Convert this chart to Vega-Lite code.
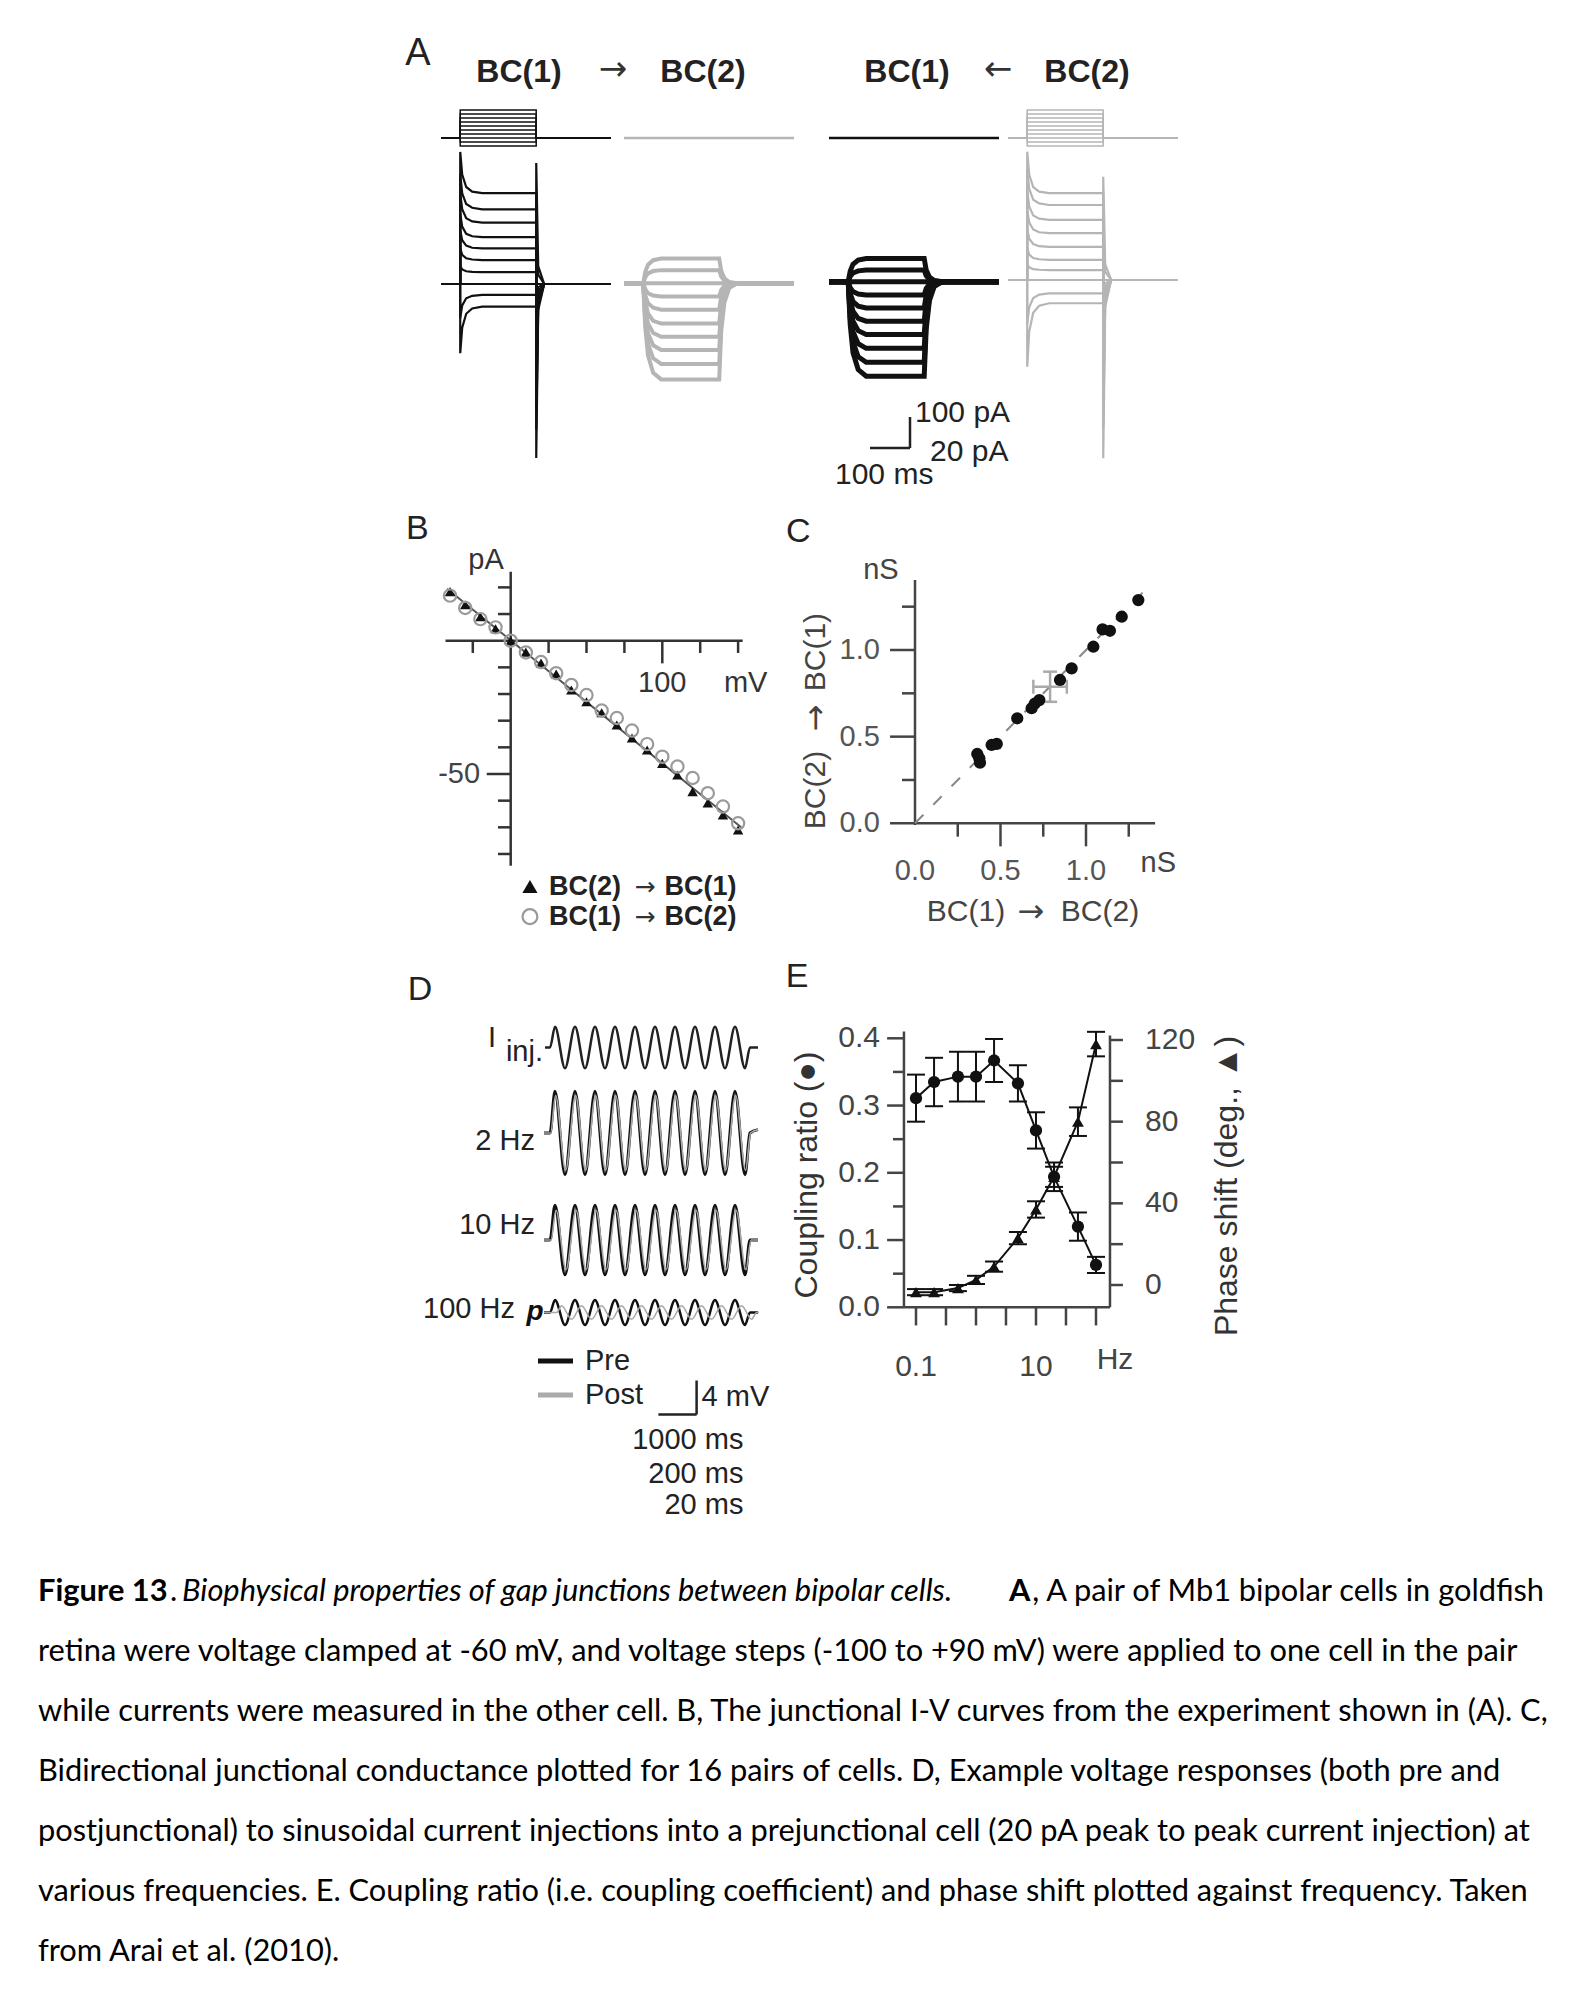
{
"$schema":"https://vega.github.io/schema/vega-lite/v6.json",
"width":1578,"height":2009,"autosize":{"type":"none"},"padding":0,"background":"#ffffff",
"config":{"view":{"stroke":null},"axis":{"disable":true},"legend":{"disable":true},
 "text":{"font":"Liberation Sans","fontSize":29,"color":"#222222","align":"center","baseline":"middle"}},
"datasets":{
"s1":[
{"k":1,"t":-48,"v":-60},{"k":1,"t":0,"v":-60},{"k":1,"t":0.1,"v":80},{"k":1,"t":190,"v":80},{"k":1,"t":190.1,"v":-60},{"k":1,"t":377,"v":-60},
{"k":2,"t":-48,"v":-60},{"k":2,"t":0,"v":-60},{"k":2,"t":0.1,"v":60},{"k":2,"t":190,"v":60},{"k":2,"t":190.1,"v":-60},{"k":2,"t":377,"v":-60},
{"k":3,"t":-48,"v":-60},{"k":3,"t":0,"v":-60},{"k":3,"t":0.1,"v":40},{"k":3,"t":190,"v":40},{"k":3,"t":190.1,"v":-60},{"k":3,"t":377,"v":-60},
{"k":4,"t":-48,"v":-60},{"k":4,"t":0,"v":-60},{"k":4,"t":0.1,"v":20},{"k":4,"t":190,"v":20},{"k":4,"t":190.1,"v":-60},{"k":4,"t":377,"v":-60},
{"k":5,"t":-48,"v":-60},{"k":5,"t":0,"v":-60},{"k":5,"t":0.1,"v":0},{"k":5,"t":190,"v":0},{"k":5,"t":190.1,"v":-60},{"k":5,"t":377,"v":-60},
{"k":6,"t":-48,"v":-60},{"k":6,"t":0,"v":-60},{"k":6,"t":0.1,"v":-20},{"k":6,"t":190,"v":-20},{"k":6,"t":190.1,"v":-60},{"k":6,"t":377,"v":-60},
{"k":7,"t":-48,"v":-60},{"k":7,"t":0,"v":-60},{"k":7,"t":0.1,"v":-40},{"k":7,"t":190,"v":-40},{"k":7,"t":190.1,"v":-60},{"k":7,"t":377,"v":-60},
{"k":8,"t":-48,"v":-60},{"k":8,"t":377,"v":-60},
{"k":9,"t":-48,"v":-60},{"k":9,"t":0,"v":-60},{"k":9,"t":0.1,"v":-80},{"k":9,"t":190,"v":-80},{"k":9,"t":190.1,"v":-60},{"k":9,"t":377,"v":-60},
{"k":10,"t":-48,"v":-60},{"k":10,"t":0,"v":-60},{"k":10,"t":0.1,"v":-100},{"k":10,"t":190,"v":-100},{"k":10,"t":190.1,"v":-60},{"k":10,"t":377,"v":-60}],
"s0":[{"t":-48,"v":-60},{"t":377,"v":-60}],
"a1":[
{"k":1,"t":-48,"i":0},{"k":1,"t":0,"i":0},{"k":1,"t":0.1,"i":426},{"k":1,"t":5,"i":353},{"k":1,"t":15,"i":313},{"k":1,"t":30,"i":298},{"k":1,"t":55,"i":293},{"k":1,"t":190,"i":293},{"k":1,"t":190.1,"i":-561},{"k":1,"t":195,"i":-84},{"k":1,"t":210,"i":0},{"k":1,"t":377,"i":0},
{"k":2,"t":-48,"i":0},{"k":2,"t":0,"i":0},{"k":2,"t":0.1,"i":355},{"k":2,"t":5,"i":292},{"k":2,"t":15,"i":258},{"k":2,"t":30,"i":246},{"k":2,"t":55,"i":241},{"k":2,"t":190,"i":241},{"k":2,"t":190.1,"i":-470},{"k":2,"t":195,"i":-70},{"k":2,"t":210,"i":0},{"k":2,"t":377,"i":0},
{"k":3,"t":-48,"i":0},{"k":3,"t":0,"i":0},{"k":3,"t":0.1,"i":293},{"k":3,"t":5,"i":241},{"k":3,"t":15,"i":212},{"k":3,"t":30,"i":202},{"k":3,"t":55,"i":198},{"k":3,"t":190,"i":198},{"k":3,"t":190.1,"i":-390},{"k":3,"t":195,"i":-58},{"k":3,"t":210,"i":0},{"k":3,"t":377,"i":0},
{"k":4,"t":-48,"i":0},{"k":4,"t":0,"i":0},{"k":4,"t":0.1,"i":227},{"k":4,"t":5,"i":185},{"k":4,"t":15,"i":162},{"k":4,"t":30,"i":154},{"k":4,"t":55,"i":151},{"k":4,"t":190,"i":151},{"k":4,"t":190.1,"i":-310},{"k":4,"t":195,"i":-46},{"k":4,"t":210,"i":0},{"k":4,"t":377,"i":0},
{"k":5,"t":-48,"i":0},{"k":5,"t":0,"i":0},{"k":5,"t":0.1,"i":172},{"k":5,"t":5,"i":141},{"k":5,"t":15,"i":124},{"k":5,"t":30,"i":117},{"k":5,"t":55,"i":115},{"k":5,"t":190,"i":115},{"k":5,"t":190.1,"i":-230},{"k":5,"t":195,"i":-35},{"k":5,"t":210,"i":0},{"k":5,"t":377,"i":0},
{"k":6,"t":-48,"i":0},{"k":6,"t":0,"i":0},{"k":6,"t":0.1,"i":115},{"k":6,"t":5,"i":94},{"k":6,"t":15,"i":83},{"k":6,"t":30,"i":79},{"k":6,"t":55,"i":77},{"k":6,"t":190,"i":77},{"k":6,"t":190.1,"i":-150},{"k":6,"t":195,"i":-22},{"k":6,"t":210,"i":0},{"k":6,"t":377,"i":0},
{"k":7,"t":-48,"i":0},{"k":7,"t":0,"i":0},{"k":7,"t":0.1,"i":57},{"k":7,"t":5,"i":47},{"k":7,"t":15,"i":41},{"k":7,"t":30,"i":39},{"k":7,"t":55,"i":38},{"k":7,"t":190,"i":38},{"k":7,"t":190.1,"i":-70},{"k":7,"t":195,"i":-10},{"k":7,"t":210,"i":0},{"k":7,"t":377,"i":0},
{"k":8,"t":-48,"i":0},{"k":8,"t":377,"i":0},
{"k":9,"t":-48,"i":0},{"k":9,"t":0,"i":0},{"k":9,"t":0.1,"i":-110},{"k":9,"t":5,"i":-69},{"k":9,"t":15,"i":-46},{"k":9,"t":30,"i":-38},{"k":9,"t":55,"i":-35},{"k":9,"t":190,"i":-35},{"k":9,"t":190.1,"i":200},{"k":9,"t":195,"i":30},{"k":9,"t":210,"i":0},{"k":9,"t":377,"i":0},
{"k":10,"t":-48,"i":0},{"k":10,"t":0,"i":0},{"k":10,"t":0.1,"i":-223},{"k":10,"t":5,"i":-141},{"k":10,"t":15,"i":-96},{"k":10,"t":30,"i":-79},{"k":10,"t":55,"i":-73},{"k":10,"t":190,"i":-73},{"k":10,"t":190.1,"i":390},{"k":10,"t":195,"i":58},{"k":10,"t":210,"i":0},{"k":10,"t":377,"i":0}],
"a4":[
{"k":1,"t":-48,"i":0},{"k":1,"t":0,"i":0},{"k":1,"t":0.1,"i":414},{"k":1,"t":5,"i":340},{"k":1,"t":15,"i":300},{"k":1,"t":30,"i":285},{"k":1,"t":55,"i":280},{"k":1,"t":190,"i":280},{"k":1,"t":190.1,"i":-575},{"k":1,"t":195,"i":-86},{"k":1,"t":210,"i":0},{"k":1,"t":377,"i":0},
{"k":2,"t":-48,"i":0},{"k":2,"t":0,"i":0},{"k":2,"t":0.1,"i":357},{"k":2,"t":5,"i":294},{"k":2,"t":15,"i":259},{"k":2,"t":30,"i":247},{"k":2,"t":55,"i":242},{"k":2,"t":190,"i":242},{"k":2,"t":190.1,"i":-480},{"k":2,"t":195,"i":-72},{"k":2,"t":210,"i":0},{"k":2,"t":377,"i":0},
{"k":3,"t":-48,"i":0},{"k":3,"t":0,"i":0},{"k":3,"t":0.1,"i":290},{"k":3,"t":5,"i":237},{"k":3,"t":15,"i":208},{"k":3,"t":30,"i":198},{"k":3,"t":55,"i":194},{"k":3,"t":190,"i":194},{"k":3,"t":190.1,"i":-400},{"k":3,"t":195,"i":-60},{"k":3,"t":210,"i":0},{"k":3,"t":377,"i":0},
{"k":4,"t":-48,"i":0},{"k":4,"t":0,"i":0},{"k":4,"t":0.1,"i":228},{"k":4,"t":5,"i":186},{"k":4,"t":15,"i":163},{"k":4,"t":30,"i":154},{"k":4,"t":55,"i":151},{"k":4,"t":190,"i":151},{"k":4,"t":190.1,"i":-320},{"k":4,"t":195,"i":-48},{"k":4,"t":210,"i":0},{"k":4,"t":377,"i":0},
{"k":5,"t":-48,"i":0},{"k":5,"t":0,"i":0},{"k":5,"t":0.1,"i":165},{"k":5,"t":5,"i":133},{"k":5,"t":15,"i":116},{"k":5,"t":30,"i":109},{"k":5,"t":55,"i":107},{"k":5,"t":190,"i":107},{"k":5,"t":190.1,"i":-235},{"k":5,"t":195,"i":-35},{"k":5,"t":210,"i":0},{"k":5,"t":377,"i":0},
{"k":6,"t":-48,"i":0},{"k":6,"t":0,"i":0},{"k":6,"t":0.1,"i":103},{"k":6,"t":5,"i":82},{"k":6,"t":15,"i":71},{"k":6,"t":30,"i":67},{"k":6,"t":55,"i":65},{"k":6,"t":190,"i":65},{"k":6,"t":190.1,"i":-155},{"k":6,"t":195,"i":-23},{"k":6,"t":210,"i":0},{"k":6,"t":377,"i":0},
{"k":7,"t":-48,"i":0},{"k":7,"t":0,"i":0},{"k":7,"t":0.1,"i":51},{"k":7,"t":5,"i":41},{"k":7,"t":15,"i":35},{"k":7,"t":30,"i":33},{"k":7,"t":55,"i":32},{"k":7,"t":190,"i":32},{"k":7,"t":190.1,"i":-75},{"k":7,"t":195,"i":-11},{"k":7,"t":210,"i":0},{"k":7,"t":377,"i":0},
{"k":8,"t":-48,"i":0},{"k":8,"t":377,"i":0},
{"k":9,"t":-48,"i":0},{"k":9,"t":0,"i":0},{"k":9,"t":0.1,"i":-143},{"k":9,"t":5,"i":-88},{"k":9,"t":15,"i":-58},{"k":9,"t":30,"i":-47},{"k":9,"t":55,"i":-43},{"k":9,"t":190,"i":-43},{"k":9,"t":190.1,"i":170},{"k":9,"t":195,"i":26},{"k":9,"t":210,"i":0},{"k":9,"t":377,"i":0},
{"k":10,"t":-48,"i":0},{"k":10,"t":0,"i":0},{"k":10,"t":0.1,"i":-280},{"k":10,"t":5,"i":-167},{"k":10,"t":15,"i":-106},{"k":10,"t":30,"i":-83},{"k":10,"t":55,"i":-75},{"k":10,"t":190,"i":-75},{"k":10,"t":190.1,"i":333},{"k":10,"t":195,"i":50},{"k":10,"t":210,"i":0},{"k":10,"t":377,"i":0}],
"a2":[
{"k":1,"t":-48,"i":0},{"k":1,"t":0,"i":0},{"k":1,"t":5,"i":7.2},{"k":1,"t":12,"i":12},{"k":1,"t":25,"i":14.9},{"k":1,"t":45,"i":16},{"k":1,"t":190,"i":16},{"k":1,"t":195,"i":8},{"k":1,"t":203,"i":3.2},{"k":1,"t":215,"i":0.8},{"k":1,"t":235,"i":0},{"k":1,"t":377,"i":0},
{"k":2,"t":-48,"i":0},{"k":2,"t":0,"i":0},{"k":2,"t":5,"i":3.8},{"k":2,"t":12,"i":6.4},{"k":2,"t":25,"i":7.9},{"k":2,"t":45,"i":8.5},{"k":2,"t":190,"i":8.5},{"k":2,"t":195,"i":4.3},{"k":2,"t":203,"i":1.7},{"k":2,"t":215,"i":0.4},{"k":2,"t":235,"i":0},{"k":2,"t":377,"i":0},
{"k":3,"t":-48,"i":0},{"k":3,"t":377,"i":0},
{"k":4,"t":-48,"i":0},{"k":4,"t":0,"i":0},{"k":4,"t":5,"i":-3.8},{"k":4,"t":12,"i":-6.4},{"k":4,"t":25,"i":-7.9},{"k":4,"t":45,"i":-8.5},{"k":4,"t":190,"i":-8.5},{"k":4,"t":195,"i":-4.3},{"k":4,"t":203,"i":-1.7},{"k":4,"t":215,"i":-0.4},{"k":4,"t":235,"i":0},{"k":4,"t":377,"i":0},
{"k":5,"t":-48,"i":0},{"k":5,"t":0,"i":0},{"k":5,"t":5,"i":-7.7},{"k":5,"t":12,"i":-12.8},{"k":5,"t":25,"i":-15.8},{"k":5,"t":45,"i":-17},{"k":5,"t":190,"i":-17},{"k":5,"t":195,"i":-8.5},{"k":5,"t":203,"i":-3.4},{"k":5,"t":215,"i":-0.9},{"k":5,"t":235,"i":0},{"k":5,"t":377,"i":0},
{"k":6,"t":-48,"i":0},{"k":6,"t":0,"i":0},{"k":6,"t":5,"i":-11.7},{"k":6,"t":12,"i":-19.5},{"k":6,"t":25,"i":-24.2},{"k":6,"t":45,"i":-26},{"k":6,"t":190,"i":-26},{"k":6,"t":195,"i":-13},{"k":6,"t":203,"i":-5.2},{"k":6,"t":215,"i":-1.3},{"k":6,"t":235,"i":0},{"k":6,"t":377,"i":0},
{"k":7,"t":-48,"i":0},{"k":7,"t":0,"i":0},{"k":7,"t":5,"i":-15.5},{"k":7,"t":12,"i":-25.9},{"k":7,"t":25,"i":-32.1},{"k":7,"t":45,"i":-34.5},{"k":7,"t":190,"i":-34.5},{"k":7,"t":195,"i":-17.3},{"k":7,"t":203,"i":-6.9},{"k":7,"t":215,"i":-1.7},{"k":7,"t":235,"i":0},{"k":7,"t":377,"i":0},
{"k":8,"t":-48,"i":0},{"k":8,"t":0,"i":0},{"k":8,"t":5,"i":-19.4},{"k":8,"t":12,"i":-32.3},{"k":8,"t":25,"i":-40},{"k":8,"t":45,"i":-43},{"k":8,"t":190,"i":-43},{"k":8,"t":195,"i":-21.5},{"k":8,"t":203,"i":-8.6},{"k":8,"t":215,"i":-2.2},{"k":8,"t":235,"i":0},{"k":8,"t":377,"i":0},
{"k":9,"t":-48,"i":0},{"k":9,"t":0,"i":0},{"k":9,"t":5,"i":-23.4},{"k":9,"t":12,"i":-39},{"k":9,"t":25,"i":-48.4},{"k":9,"t":45,"i":-52},{"k":9,"t":190,"i":-52},{"k":9,"t":195,"i":-26},{"k":9,"t":203,"i":-10.4},{"k":9,"t":215,"i":-2.6},{"k":9,"t":235,"i":0},{"k":9,"t":377,"i":0},
{"k":10,"t":-48,"i":0},{"k":10,"t":0,"i":0},{"k":10,"t":5,"i":-27.9},{"k":10,"t":12,"i":-46.5},{"k":10,"t":25,"i":-57.7},{"k":10,"t":45,"i":-62},{"k":10,"t":190,"i":-62},{"k":10,"t":195,"i":-31},{"k":10,"t":203,"i":-12.4},{"k":10,"t":215,"i":-3.1},{"k":10,"t":235,"i":0},{"k":10,"t":377,"i":0}],
"a3":[
{"k":1,"t":-48,"i":0},{"k":1,"t":0,"i":0},{"k":1,"t":5,"i":6.8},{"k":1,"t":12,"i":11.3},{"k":1,"t":25,"i":14},{"k":1,"t":45,"i":15},{"k":1,"t":190,"i":15},{"k":1,"t":195,"i":7.5},{"k":1,"t":203,"i":3},{"k":1,"t":215,"i":0.8},{"k":1,"t":235,"i":0},{"k":1,"t":377,"i":0},
{"k":2,"t":-48,"i":0},{"k":2,"t":0,"i":0},{"k":2,"t":5,"i":3.4},{"k":2,"t":12,"i":5.6},{"k":2,"t":25,"i":7},{"k":2,"t":45,"i":7.5},{"k":2,"t":190,"i":7.5},{"k":2,"t":195,"i":3.8},{"k":2,"t":203,"i":1.5},{"k":2,"t":215,"i":0.4},{"k":2,"t":235,"i":0},{"k":2,"t":377,"i":0},
{"k":3,"t":-48,"i":0},{"k":3,"t":377,"i":0},
{"k":4,"t":-48,"i":0},{"k":4,"t":0,"i":0},{"k":4,"t":5,"i":-3.8},{"k":4,"t":12,"i":-6.4},{"k":4,"t":25,"i":-7.9},{"k":4,"t":45,"i":-8.5},{"k":4,"t":190,"i":-8.5},{"k":4,"t":195,"i":-4.3},{"k":4,"t":203,"i":-1.7},{"k":4,"t":215,"i":-0.4},{"k":4,"t":235,"i":0},{"k":4,"t":377,"i":0},
{"k":5,"t":-48,"i":0},{"k":5,"t":0,"i":0},{"k":5,"t":5,"i":-7.7},{"k":5,"t":12,"i":-12.8},{"k":5,"t":25,"i":-15.8},{"k":5,"t":45,"i":-17},{"k":5,"t":190,"i":-17},{"k":5,"t":195,"i":-8.5},{"k":5,"t":203,"i":-3.4},{"k":5,"t":215,"i":-0.9},{"k":5,"t":235,"i":0},{"k":5,"t":377,"i":0},
{"k":6,"t":-48,"i":0},{"k":6,"t":0,"i":0},{"k":6,"t":5,"i":-11.5},{"k":6,"t":12,"i":-19.1},{"k":6,"t":25,"i":-23.7},{"k":6,"t":45,"i":-25.5},{"k":6,"t":190,"i":-25.5},{"k":6,"t":195,"i":-12.8},{"k":6,"t":203,"i":-5.1},{"k":6,"t":215,"i":-1.3},{"k":6,"t":235,"i":0},{"k":6,"t":377,"i":0},
{"k":7,"t":-48,"i":0},{"k":7,"t":0,"i":0},{"k":7,"t":5,"i":-15.3},{"k":7,"t":12,"i":-25.5},{"k":7,"t":25,"i":-31.6},{"k":7,"t":45,"i":-34},{"k":7,"t":190,"i":-34},{"k":7,"t":195,"i":-17},{"k":7,"t":203,"i":-6.8},{"k":7,"t":215,"i":-1.7},{"k":7,"t":235,"i":0},{"k":7,"t":377,"i":0},
{"k":8,"t":-48,"i":0},{"k":8,"t":0,"i":0},{"k":8,"t":5,"i":-19.4},{"k":8,"t":12,"i":-32.3},{"k":8,"t":25,"i":-40},{"k":8,"t":45,"i":-43},{"k":8,"t":190,"i":-43},{"k":8,"t":195,"i":-21.5},{"k":8,"t":203,"i":-8.6},{"k":8,"t":215,"i":-2.2},{"k":8,"t":235,"i":0},{"k":8,"t":377,"i":0},
{"k":9,"t":-48,"i":0},{"k":9,"t":0,"i":0},{"k":9,"t":5,"i":-23.4},{"k":9,"t":12,"i":-39},{"k":9,"t":25,"i":-48.4},{"k":9,"t":45,"i":-52},{"k":9,"t":190,"i":-52},{"k":9,"t":195,"i":-26},{"k":9,"t":203,"i":-10.4},{"k":9,"t":215,"i":-2.6},{"k":9,"t":235,"i":0},{"k":9,"t":377,"i":0},
{"k":10,"t":-48,"i":0},{"k":10,"t":0,"i":0},{"k":10,"t":5,"i":-27.5},{"k":10,"t":12,"i":-45.8},{"k":10,"t":25,"i":-56.7},{"k":10,"t":45,"i":-61},{"k":10,"t":190,"i":-61},{"k":10,"t":195,"i":-30.5},{"k":10,"t":203,"i":-12.2},{"k":10,"t":215,"i":-3.1},{"k":10,"t":235,"i":0},{"k":10,"t":377,"i":0}],
"btri":[{"mv":-40,"pa":18.4},{"mv":-30,"pa":13.5},{"mv":-20,"pa":9},{"mv":-10,"pa":4.5},{"mv":0,"pa":0},{"mv":10,"pa":-4.3},{"mv":20,"pa":-8.4},{"mv":30,"pa":-12.5},{"mv":40,"pa":-18.5},{"mv":50,"pa":-22.9},{"mv":60,"pa":-27},{"mv":70,"pa":-31.6},{"mv":80,"pa":-36.5},{"mv":90,"pa":-41},{"mv":100,"pa":-46},{"mv":110,"pa":-50.4},{"mv":120,"pa":-56.6},{"mv":130,"pa":-60.9},{"mv":140,"pa":-65.4},{"mv":150,"pa":-71}],
"bcir":[{"mv":-40,"pa":16.9},{"mv":-30,"pa":12.3},{"mv":-20,"pa":8.1},{"mv":-10,"pa":5},{"mv":0,"pa":0},{"mv":10,"pa":-4.4},{"mv":20,"pa":-8},{"mv":30,"pa":-12.2},{"mv":40,"pa":-16.6},{"mv":50,"pa":-20.4},{"mv":60,"pa":-26.2},{"mv":70,"pa":-29},{"mv":80,"pa":-33.7},{"mv":90,"pa":-38.8},{"mv":100,"pa":-43.5},{"mv":110,"pa":-47.2},{"mv":120,"pa":-51.5},{"mv":130,"pa":-57.2},{"mv":140,"pa":-62.2},{"mv":150,"pa":-68.5}],
"cpts":[{"g12":0.364,"g21":0.4},{"g12":0.376,"g21":0.375},{"g12":0.38,"g21":0.35},{"g12":0.448,"g21":0.452},{"g12":0.478,"g21":0.458},{"g12":0.598,"g21":0.606},{"g12":0.682,"g21":0.664},{"g12":0.7,"g21":0.69},{"g12":0.727,"g21":0.711},{"g12":0.848,"g21":0.827},{"g12":0.916,"g21":0.894},{"g12":1.043,"g21":1.019},{"g12":1.097,"g21":1.119},{"g12":1.14,"g21":1.111},{"g12":1.209,"g21":1.192},{"g12":1.306,"g21":1.288}],
"cmean":[{"g12":0.79,"g21":0.788,"xlo":0.692,"xhi":0.888,"ylo":0.701,"yhi":0.875}],
"dinj":[{"c":-0.25,"y":0},{"c":0,"y":0},{"c":0.25,"y":10},{"c":0.75,"y":-10},{"c":1.25,"y":10},{"c":1.75,"y":-10},{"c":2.25,"y":10},{"c":2.75,"y":-10},{"c":3.25,"y":10},{"c":3.75,"y":-10},{"c":4.25,"y":10},{"c":4.75,"y":-10},{"c":5.25,"y":10},{"c":5.75,"y":-10},{"c":6.25,"y":10},{"c":6.75,"y":-10},{"c":7.25,"y":10},{"c":7.75,"y":-10},{"c":8.25,"y":10},{"c":8.75,"y":-10},{"c":9.25,"y":10},{"c":9.75,"y":-10},{"c":10,"y":0},{"c":10.4,"y":0}],
"d2pre":[{"c":-0.3,"y":0},{"c":0,"y":0},{"c":0.25,"y":4.9},{"c":0.75,"y":-4.9},{"c":1.25,"y":4.9},{"c":1.75,"y":-4.9},{"c":2.25,"y":4.9},{"c":2.75,"y":-4.9},{"c":3.25,"y":4.9},{"c":3.75,"y":-4.9},{"c":4.25,"y":4.9},{"c":4.75,"y":-4.9},{"c":5.25,"y":4.9},{"c":5.75,"y":-4.9},{"c":6.25,"y":4.9},{"c":6.75,"y":-4.9},{"c":7.25,"y":4.9},{"c":7.75,"y":-4.9},{"c":8.25,"y":4.9},{"c":8.75,"y":-4.9},{"c":9.25,"y":4.9},{"c":9.75,"y":-4.9},{"c":10,"y":0},{"c":10.4,"y":0.4}],
"d2post":[{"c":-0.3,"y":0},{"c":0.03,"y":0},{"c":0.28,"y":4.4},{"c":0.78,"y":-4.4},{"c":1.28,"y":4.4},{"c":1.78,"y":-4.4},{"c":2.28,"y":4.4},{"c":2.78,"y":-4.4},{"c":3.28,"y":4.4},{"c":3.78,"y":-4.4},{"c":4.28,"y":4.4},{"c":4.78,"y":-4.4},{"c":5.28,"y":4.4},{"c":5.78,"y":-4.4},{"c":6.28,"y":4.4},{"c":6.78,"y":-4.4},{"c":7.28,"y":4.4},{"c":7.78,"y":-4.4},{"c":8.28,"y":4.4},{"c":8.78,"y":-4.4},{"c":9.28,"y":4.4},{"c":9.78,"y":-4.4},{"c":10.03,"y":0},{"c":10.4,"y":0.4}],
"d10pre":[{"c":-0.3,"y":0},{"c":0,"y":0},{"c":0.25,"y":4.1},{"c":0.75,"y":-4.1},{"c":1.25,"y":4.1},{"c":1.75,"y":-4.1},{"c":2.25,"y":4.1},{"c":2.75,"y":-4.1},{"c":3.25,"y":4.1},{"c":3.75,"y":-4.1},{"c":4.25,"y":4.1},{"c":4.75,"y":-4.1},{"c":5.25,"y":4.1},{"c":5.75,"y":-4.1},{"c":6.25,"y":4.1},{"c":6.75,"y":-4.1},{"c":7.25,"y":4.1},{"c":7.75,"y":-4.1},{"c":8.25,"y":4.1},{"c":8.75,"y":-4.1},{"c":9.25,"y":4.1},{"c":9.75,"y":-4.1},{"c":10,"y":0},{"c":10.4,"y":0}],
"d10post":[{"c":-0.3,"y":0},{"c":0.05,"y":0},{"c":0.3,"y":3.5},{"c":0.8,"y":-3.5},{"c":1.3,"y":3.5},{"c":1.8,"y":-3.5},{"c":2.3,"y":3.5},{"c":2.8,"y":-3.5},{"c":3.3,"y":3.5},{"c":3.8,"y":-3.5},{"c":4.3,"y":3.5},{"c":4.8,"y":-3.5},{"c":5.3,"y":3.5},{"c":5.8,"y":-3.5},{"c":6.3,"y":3.5},{"c":6.8,"y":-3.5},{"c":7.3,"y":3.5},{"c":7.8,"y":-3.5},{"c":8.3,"y":3.5},{"c":8.8,"y":-3.5},{"c":9.3,"y":3.5},{"c":9.8,"y":-3.5},{"c":10.05,"y":0},{"c":10.4,"y":0}],
"d100pre":[{"c":-0.3,"y":0},{"c":0,"y":0},{"c":0.25,"y":1.47},{"c":0.75,"y":-1.47},{"c":1.25,"y":1.47},{"c":1.75,"y":-1.47},{"c":2.25,"y":1.47},{"c":2.75,"y":-1.47},{"c":3.25,"y":1.47},{"c":3.75,"y":-1.47},{"c":4.25,"y":1.47},{"c":4.75,"y":-1.47},{"c":5.25,"y":1.47},{"c":5.75,"y":-1.47},{"c":6.25,"y":1.47},{"c":6.75,"y":-1.47},{"c":7.25,"y":1.47},{"c":7.75,"y":-1.47},{"c":8.25,"y":1.47},{"c":8.75,"y":-1.47},{"c":9.25,"y":1.47},{"c":9.75,"y":-1.47},{"c":10,"y":0},{"c":10.4,"y":0}],
"d100post":[{"c":-0.3,"y":0},{"c":0.33,"y":0},{"c":0.58,"y":0.8},{"c":1.08,"y":-0.8},{"c":1.58,"y":0.8},{"c":2.08,"y":-0.8},{"c":2.58,"y":0.8},{"c":3.08,"y":-0.8},{"c":3.58,"y":0.8},{"c":4.08,"y":-0.8},{"c":4.58,"y":0.8},{"c":5.08,"y":-0.8},{"c":5.58,"y":0.8},{"c":6.08,"y":-0.8},{"c":6.58,"y":0.8},{"c":7.08,"y":-0.8},{"c":7.58,"y":0.8},{"c":8.08,"y":-0.8},{"c":8.58,"y":0.8},{"c":9.08,"y":-0.8},{"c":9.58,"y":0.8},{"c":10.08,"y":-0.8},{"c":10.33,"y":0},{"c":10.45,"y":0}],
"eco":[{"f":0.1,"r":0.311,"lo":0.276,"hi":0.346},{"f":0.2,"r":0.335,"lo":0.299,"hi":0.371},{"f":0.5,"r":0.343,"lo":0.306,"hi":0.38},{"f":1,"r":0.343,"lo":0.306,"hi":0.38},{"f":2,"r":0.367,"lo":0.335,"hi":0.399},{"f":5,"r":0.333,"lo":0.306,"hi":0.36},{"f":10,"r":0.263,"lo":0.236,"hi":0.29},{"f":20,"r":0.194,"lo":0.179,"hi":0.209},{"f":50,"r":0.12,"lo":0.099,"hi":0.141},{"f":100,"r":0.063,"lo":0.051,"hi":0.075}],
"eph":[{"f":0.1,"p":-3.5,"lo":-5,"hi":-2},{"f":0.2,"p":-3.5,"lo":-5,"hi":-2},{"f":0.5,"p":-1.5,"lo":-3,"hi":0},{"f":1,"p":2.5,"lo":0.5,"hi":4.5},{"f":2,"p":9,"lo":6.5,"hi":11.5},{"f":5,"p":23,"lo":20,"hi":26},{"f":10,"p":37,"lo":33,"hi":41},{"f":20,"p":53,"lo":46,"hi":60},{"f":50,"p":80,"lo":73,"hi":87},{"f":100,"p":118,"lo":112,"hi":124}],
"cap":[
{"line":2,"text":"retina were voltage clamped at -60 mV, and voltage steps (-100 to +90 mV) were applied to one cell in the pair"},
{"line":3,"text":"while currents were measured in the other cell. B, The junctional I-V curves from the experiment shown in (A). C,"},
{"line":4,"text":"Bidirectional junctional conductance plotted for 16 pairs of cells. D, Example voltage responses (both pre and"},
{"line":5,"text":"postjunctional) to sinusoidal current injections into a prejunctional cell (20 pA peak to peak current injection) at"},
{"line":6,"text":"various frequencies. E. Coupling ratio (i.e. coupling coefficient) and phase shift plotted against frequency. Taken"},
{"line":7,"text":"from Arai et al. (2010)."}]
},
"layer":[
{"layer":[
 {"layer":[
  {"data":{"name":"s1"},"mark":{"type":"line","color":"#111111","strokeWidth":1.5},"encoding":{"x":{"field":"t","type":"quantitative","scale":{"domain":[-48,377],"range":[441,611],"nice":false,"zero":false}},"y":{"field":"v","type":"quantitative","scale":{"domain":[-100,0],"range":[146,126],"nice":false,"zero":false}},"detail":{"field":"k","type":"nominal"}}},
  {"data":{"values":[{}]},"mark":{"type":"text","text":"BC(1)","fontSize":32,"fontWeight":"bold"},"encoding":{"x":{"datum":147,"type":"quantitative","scale":{"domain":[-48,377],"range":[441,611],"nice":false,"zero":false}},"y":{"datum":270,"type":"quantitative","scale":{"domain":[-100,0],"range":[146,126],"nice":false,"zero":false}}}},
  {"data":{"values":[{}]},"mark":{"type":"text","text":"A","fontSize":38},"encoding":{"x":{"datum":-105.5,"type":"quantitative","scale":{"domain":[-48,377],"range":[441,611],"nice":false,"zero":false}},"y":{"datum":360,"type":"quantitative","scale":{"domain":[-100,0],"range":[146,126],"nice":false,"zero":false}}}},
  {"data":{"values":[{}]},"mark":{"type":"text","text":"→","font":"DejaVu Sans","fontSize":34,"color":"#333333"},"encoding":{"x":{"datum":382,"type":"quantitative","scale":{"domain":[-48,377],"range":[441,611],"nice":false,"zero":false}},"y":{"datum":280,"type":"quantitative","scale":{"domain":[-100,0],"range":[146,126],"nice":false,"zero":false}}}}
 ]},
 {"layer":[
  {"data":{"name":"a1"},"mark":{"type":"line","color":"#111111","strokeWidth":2.2},"encoding":{"x":{"field":"t","type":"quantitative","scale":{"domain":[-48,377],"range":[441,611],"nice":false,"zero":false}},"y":{"field":"i","type":"quantitative","scale":{"domain":[0,100],"range":[284,253],"nice":false,"zero":false}},"detail":{"field":"k","type":"nominal"}}}
 ]}
],"resolve":{"scale":{"y":"independent"}}},
{"layer":[
 {"layer":[
  {"data":{"name":"s0"},"mark":{"type":"line","color":"#b5b5b5","strokeWidth":2.5},"encoding":{"x":{"field":"t","type":"quantitative","scale":{"domain":[-48,377],"range":[624,794],"nice":false,"zero":false}},"y":{"field":"v","type":"quantitative","scale":{"domain":[-100,0],"range":[146,126],"nice":false,"zero":false}}}},
  {"data":{"values":[{}]},"mark":{"type":"text","text":"BC(2)","fontSize":32,"fontWeight":"bold"},"encoding":{"x":{"datum":149.5,"type":"quantitative","scale":{"domain":[-48,377],"range":[624,794],"nice":false,"zero":false}},"y":{"datum":270,"type":"quantitative","scale":{"domain":[-100,0],"range":[146,126],"nice":false,"zero":false}}}}
 ]},
 {"layer":[
  {"data":{"name":"a2"},"mark":{"type":"line","color":"#b5b5b5","strokeWidth":4},"encoding":{"x":{"field":"t","type":"quantitative","scale":{"domain":[-48,377],"range":[624,794],"nice":false,"zero":false}},"y":{"field":"i","type":"quantitative","scale":{"domain":[0,20],"range":[283.3,252.3],"nice":false,"zero":false}},"detail":{"field":"k","type":"nominal"}}}
 ]}
],"resolve":{"scale":{"y":"independent"}}},
{"layer":[
 {"layer":[
  {"data":{"name":"s0"},"mark":{"type":"line","color":"#111111","strokeWidth":2.5},"encoding":{"x":{"field":"t","type":"quantitative","scale":{"domain":[-48,377],"range":[829,999],"nice":false,"zero":false}},"y":{"field":"v","type":"quantitative","scale":{"domain":[-100,0],"range":[146,126],"nice":false,"zero":false}}}},
  {"data":{"values":[{}]},"mark":{"type":"text","text":"BC(1)","fontSize":32,"fontWeight":"bold"},"encoding":{"x":{"datum":147,"type":"quantitative","scale":{"domain":[-48,377],"range":[829,999],"nice":false,"zero":false}},"y":{"datum":270,"type":"quantitative","scale":{"domain":[-100,0],"range":[146,126],"nice":false,"zero":false}}}},
  {"data":{"values":[{}]},"mark":{"type":"text","text":"←","font":"DejaVu Sans","fontSize":34,"color":"#333333"},"encoding":{"x":{"datum":374.5,"type":"quantitative","scale":{"domain":[-48,377],"range":[829,999],"nice":false,"zero":false}},"y":{"datum":280,"type":"quantitative","scale":{"domain":[-100,0],"range":[146,126],"nice":false,"zero":false}}}}
 ]},
 {"layer":[
  {"data":{"name":"a3"},"mark":{"type":"line","color":"#111111","strokeWidth":5},"encoding":{"x":{"field":"t","type":"quantitative","scale":{"domain":[-48,377],"range":[829,999],"nice":false,"zero":false}},"y":{"field":"i","type":"quantitative","scale":{"domain":[0,20],"range":[281.7,250.7],"nice":false,"zero":false}},"detail":{"field":"k","type":"nominal"}}},
  {"data":{"values":[{}]},"mark":{"type":"rule","color":"#222222","strokeWidth":2.5},"encoding":{"x":{"datum":54.5,"type":"quantitative","scale":{"domain":[-48,377],"range":[829,999],"nice":false,"zero":false}},"x2":{"datum":154.5},"y":{"datum":-107.3,"type":"quantitative","scale":{"domain":[0,20],"range":[281.7,250.7],"nice":false,"zero":false}}}},
  {"data":{"values":[{}]},"mark":{"type":"rule","color":"#222222","strokeWidth":2.5},"encoding":{"x":{"datum":154.5,"type":"quantitative","scale":{"domain":[-48,377],"range":[829,999],"nice":false,"zero":false}},"y":{"datum":-107.3,"type":"quantitative","scale":{"domain":[0,20],"range":[281.7,250.7],"nice":false,"zero":false}},"y2":{"datum":-87.3}}},
  {"data":{"values":[{}]},"mark":{"type":"text","text":"100 pA","fontSize":30,"align":"left"},"encoding":{"x":{"datum":167,"type":"quantitative","scale":{"domain":[-48,377],"range":[829,999],"nice":false,"zero":false}},"y":{"datum":-84.7,"type":"quantitative","scale":{"domain":[0,20],"range":[281.7,250.7],"nice":false,"zero":false}}}},
  {"data":{"values":[{}]},"mark":{"type":"text","text":"20 pA","fontSize":30,"align":"left"},"encoding":{"x":{"datum":204.5,"type":"quantitative","scale":{"domain":[-48,377],"range":[829,999],"nice":false,"zero":false}},"y":{"datum":-109.9,"type":"quantitative","scale":{"domain":[0,20],"range":[281.7,250.7],"nice":false,"zero":false}}}},
  {"data":{"values":[{}]},"mark":{"type":"text","text":"100 ms","fontSize":30,"align":"left"},"encoding":{"x":{"datum":-33,"type":"quantitative","scale":{"domain":[-48,377],"range":[829,999],"nice":false,"zero":false}},"y":{"datum":-124.7,"type":"quantitative","scale":{"domain":[0,20],"range":[281.7,250.7],"nice":false,"zero":false}}}}
 ]}
],"resolve":{"scale":{"y":"independent"}}},
{"layer":[
 {"layer":[
  {"data":{"name":"s1"},"mark":{"type":"line","color":"#b5b5b5","strokeWidth":1.5},"encoding":{"x":{"field":"t","type":"quantitative","scale":{"domain":[-48,377],"range":[1008,1178],"nice":false,"zero":false}},"y":{"field":"v","type":"quantitative","scale":{"domain":[-100,0],"range":[146,126],"nice":false,"zero":false}},"detail":{"field":"k","type":"nominal"}}},
  {"data":{"values":[{}]},"mark":{"type":"text","text":"BC(2)","fontSize":32,"fontWeight":"bold"},"encoding":{"x":{"datum":149.5,"type":"quantitative","scale":{"domain":[-48,377],"range":[1008,1178],"nice":false,"zero":false}},"y":{"datum":270,"type":"quantitative","scale":{"domain":[-100,0],"range":[146,126],"nice":false,"zero":false}}}}
 ]},
 {"layer":[
  {"data":{"name":"a4"},"mark":{"type":"line","color":"#b5b5b5","strokeWidth":2.2},"encoding":{"x":{"field":"t","type":"quantitative","scale":{"domain":[-48,377],"range":[1008,1178],"nice":false,"zero":false}},"y":{"field":"i","type":"quantitative","scale":{"domain":[0,100],"range":[280,249],"nice":false,"zero":false}},"detail":{"field":"k","type":"nominal"}}}
 ]}
],"resolve":{"scale":{"y":"independent"}}},
{"layer":[
 {"data":{"values":[{}]},"mark":{"type":"rule","color":"#333333","strokeWidth":2.5},"encoding":{"x":{"datum":-43,"type":"quantitative","scale":{"domain":[0,100],"range":[510.7,662.3],"nice":false,"zero":false}},"x2":{"datum":153},"y":{"datum":0,"type":"quantitative","scale":{"domain":[-50,0],"range":[774,640.7],"nice":false,"zero":false}}}},
 {"data":{"values":[{}]},"mark":{"type":"rule","color":"#333333","strokeWidth":2.5},"encoding":{"x":{"datum":0,"type":"quantitative","scale":{"domain":[0,100],"range":[510.7,662.3],"nice":false,"zero":false}},"y":{"datum":25.9,"type":"quantitative","scale":{"domain":[-50,0],"range":[774,640.7],"nice":false,"zero":false}},"y2":{"datum":-84.4}}},
 {"data":{"values":[{"v":-25},{"v":25},{"v":50},{"v":75},{"v":125},{"v":150}]},"mark":{"type":"rule","color":"#333333","strokeWidth":2.5},"encoding":{"x":{"field":"v","type":"quantitative","scale":{"domain":[0,100],"range":[510.7,662.3],"nice":false,"zero":false}},"y":{"datum":0,"type":"quantitative","scale":{"domain":[-50,0],"range":[774,640.7],"nice":false,"zero":false}},"y2":{"datum":-4.6}}},
 {"data":{"values":[{"v":100}]},"mark":{"type":"rule","color":"#333333","strokeWidth":2.5},"encoding":{"x":{"field":"v","type":"quantitative","scale":{"domain":[0,100],"range":[510.7,662.3],"nice":false,"zero":false}},"y":{"datum":0,"type":"quantitative","scale":{"domain":[-50,0],"range":[774,640.7],"nice":false,"zero":false}},"y2":{"datum":-8.5}}},
 {"data":{"values":[{"v":20},{"v":10},{"v":-10},{"v":-20},{"v":-30},{"v":-40},{"v":-60},{"v":-70},{"v":-80}]},"mark":{"type":"rule","color":"#333333","strokeWidth":2.5},"encoding":{"y":{"field":"v","type":"quantitative","scale":{"domain":[-50,0],"range":[774,640.7],"nice":false,"zero":false}},"x":{"datum":0,"type":"quantitative","scale":{"domain":[0,100],"range":[510.7,662.3],"nice":false,"zero":false}},"x2":{"datum":-8.4}}},
 {"data":{"values":[{"v":-50}]},"mark":{"type":"rule","color":"#333333","strokeWidth":2.5},"encoding":{"y":{"field":"v","type":"quantitative","scale":{"domain":[-50,0],"range":[774,640.7],"nice":false,"zero":false}},"x":{"datum":0,"type":"quantitative","scale":{"domain":[0,100],"range":[510.7,662.3],"nice":false,"zero":false}},"x2":{"datum":-15.8}}},
 {"data":{"values":[{}]},"mark":{"type":"rule","color":"#555555","strokeWidth":2},"encoding":{"x":{"datum":-42,"type":"quantitative","scale":{"domain":[0,100],"range":[510.7,662.3],"nice":false,"zero":false}},"y":{"datum":19.5,"type":"quantitative","scale":{"domain":[-50,0],"range":[774,640.7],"nice":false,"zero":false}},"x2":{"datum":152},"y2":{"datum":-70}}},
 {"data":{"name":"btri"},"mark":{"type":"point","shape":"triangle-up","filled":true,"color":"#111111","size":110,"opacity":1},"encoding":{"x":{"field":"mv","type":"quantitative","scale":{"domain":[0,100],"range":[510.7,662.3],"nice":false,"zero":false}},"y":{"field":"pa","type":"quantitative","scale":{"domain":[-50,0],"range":[774,640.7],"nice":false,"zero":false}}}},
 {"data":{"name":"bcir"},"mark":{"type":"point","shape":"circle","filled":false,"color":"#9a9a9a","size":150,"strokeWidth":2.2,"opacity":1},"encoding":{"x":{"field":"mv","type":"quantitative","scale":{"domain":[0,100],"range":[510.7,662.3],"nice":false,"zero":false}},"y":{"field":"pa","type":"quantitative","scale":{"domain":[-50,0],"range":[774,640.7],"nice":false,"zero":false}}}},
 {"data":{"values":[{}]},"mark":{"type":"text","text":"100","fontSize":29,"color":"#333333"},"encoding":{"x":{"datum":100,"type":"quantitative","scale":{"domain":[0,100],"range":[510.7,662.3],"nice":false,"zero":false}},"y":{"datum":-15.9,"type":"quantitative","scale":{"domain":[-50,0],"range":[774,640.7],"nice":false,"zero":false}}}},
 {"data":{"values":[{}]},"mark":{"type":"text","text":"mV","fontSize":29,"color":"#333333"},"encoding":{"x":{"datum":155,"type":"quantitative","scale":{"domain":[0,100],"range":[510.7,662.3],"nice":false,"zero":false}},"y":{"datum":-15.9,"type":"quantitative","scale":{"domain":[-50,0],"range":[774,640.7],"nice":false,"zero":false}}}},
 {"data":{"values":[{}]},"mark":{"type":"text","text":"-50","fontSize":29,"color":"#444444","align":"right"},"encoding":{"x":{"datum":-20.2,"type":"quantitative","scale":{"domain":[0,100],"range":[510.7,662.3],"nice":false,"zero":false}},"y":{"datum":-50,"type":"quantitative","scale":{"domain":[-50,0],"range":[774,640.7],"nice":false,"zero":false}}}},
 {"data":{"values":[{}]},"mark":{"type":"text","text":"pA","fontSize":29,"color":"#333333"},"encoding":{"x":{"datum":-16.3,"type":"quantitative","scale":{"domain":[0,100],"range":[510.7,662.3],"nice":false,"zero":false}},"y":{"datum":30.3,"type":"quantitative","scale":{"domain":[-50,0],"range":[774,640.7],"nice":false,"zero":false}}}},
 {"data":{"values":[{}]},"mark":{"type":"text","text":"B","fontSize":34},"encoding":{"x":{"datum":-61.6,"type":"quantitative","scale":{"domain":[0,100],"range":[510.7,662.3],"nice":false,"zero":false}},"y":{"datum":42,"type":"quantitative","scale":{"domain":[-50,0],"range":[774,640.7],"nice":false,"zero":false}}}},
 {"data":{"values":[{}]},"mark":{"type":"point","shape":"triangle-up","filled":true,"color":"#111111","size":230,"opacity":1},"encoding":{"x":{"datum":12.7,"type":"quantitative","scale":{"domain":[0,100],"range":[510.7,662.3],"nice":false,"zero":false}},"y":{"datum":-92.2,"type":"quantitative","scale":{"domain":[-50,0],"range":[774,640.7],"nice":false,"zero":false}}}},
 {"data":{"values":[{}]},"mark":{"type":"point","shape":"circle","filled":false,"color":"#9a9a9a","size":220,"strokeWidth":2.2,"opacity":1},"encoding":{"x":{"datum":12.7,"type":"quantitative","scale":{"domain":[0,100],"range":[510.7,662.3],"nice":false,"zero":false}},"y":{"datum":-103.5,"type":"quantitative","scale":{"domain":[-50,0],"range":[774,640.7],"nice":false,"zero":false}}}},
 {"data":{"values":[{"s":"BC(2)","v":-92.2},{"s":"BC(1)","v":-103.5}]},"mark":{"type":"text","fontSize":27,"fontWeight":"bold","align":"left"},"encoding":{"x":{"datum":25.2,"type":"quantitative","scale":{"domain":[0,100],"range":[510.7,662.3],"nice":false,"zero":false}},"y":{"field":"v","type":"quantitative","scale":{"domain":[-50,0],"range":[774,640.7],"nice":false,"zero":false}},"text":{"field":"s"}}},
 {"data":{"values":[{"v":-92.2},{"v":-103.5}]},"mark":{"type":"text","text":"→","font":"DejaVu Sans","fontSize":25,"color":"#333333"},"encoding":{"x":{"datum":88.6,"type":"quantitative","scale":{"domain":[0,100],"range":[510.7,662.3],"nice":false,"zero":false}},"y":{"field":"v","type":"quantitative","scale":{"domain":[-50,0],"range":[774,640.7],"nice":false,"zero":false}}}},
 {"data":{"values":[{"s":"BC(1)","v":-92.2},{"s":"BC(2)","v":-103.5}]},"mark":{"type":"text","fontSize":27,"fontWeight":"bold","align":"left"},"encoding":{"x":{"datum":101.5,"type":"quantitative","scale":{"domain":[0,100],"range":[510.7,662.3],"nice":false,"zero":false}},"y":{"field":"v","type":"quantitative","scale":{"domain":[-50,0],"range":[774,640.7],"nice":false,"zero":false}},"text":{"field":"s"}}}
]},
{"layer":[
 {"data":{"values":[{}]},"mark":{"type":"rule","color":"#444444","strokeWidth":2.5},"encoding":{"x":{"datum":0,"type":"quantitative","scale":{"domain":[0,1],"range":[915,1086],"nice":false,"zero":false}},"y":{"datum":-0.01,"type":"quantitative","scale":{"domain":[0,1],"range":[823.3,650],"nice":false,"zero":false}},"y2":{"datum":1.404}}},
 {"data":{"values":[{}]},"mark":{"type":"rule","color":"#444444","strokeWidth":2.5},"encoding":{"x":{"datum":-0.146,"type":"quantitative","scale":{"domain":[0,1],"range":[915,1086],"nice":false,"zero":false}},"x2":{"datum":1.404},"y":{"datum":0,"type":"quantitative","scale":{"domain":[0,1],"range":[823.3,650],"nice":false,"zero":false}}}},
 {"data":{"values":[{"v":0.25},{"v":0.75},{"v":1.25}]},"mark":{"type":"rule","color":"#444444","strokeWidth":2.5},"encoding":{"y":{"field":"v","type":"quantitative","scale":{"domain":[0,1],"range":[823.3,650],"nice":false,"zero":false}},"x":{"datum":0,"type":"quantitative","scale":{"domain":[0,1],"range":[915,1086],"nice":false,"zero":false}},"x2":{"datum":-0.076}}},
 {"data":{"values":[{"v":0.5},{"v":1}]},"mark":{"type":"rule","color":"#444444","strokeWidth":2.5},"encoding":{"y":{"field":"v","type":"quantitative","scale":{"domain":[0,1],"range":[823.3,650],"nice":false,"zero":false}},"x":{"datum":0,"type":"quantitative","scale":{"domain":[0,1],"range":[915,1086],"nice":false,"zero":false}},"x2":{"datum":-0.146}}},
 {"data":{"values":[{"v":0.25},{"v":0.75},{"v":1.25}]},"mark":{"type":"rule","color":"#444444","strokeWidth":2.5},"encoding":{"x":{"field":"v","type":"quantitative","scale":{"domain":[0,1],"range":[915,1086],"nice":false,"zero":false}},"y":{"datum":0,"type":"quantitative","scale":{"domain":[0,1],"range":[823.3,650],"nice":false,"zero":false}},"y2":{"datum":-0.077}}},
 {"data":{"values":[{"v":0.5},{"v":1}]},"mark":{"type":"rule","color":"#444444","strokeWidth":2.5},"encoding":{"x":{"field":"v","type":"quantitative","scale":{"domain":[0,1],"range":[915,1086],"nice":false,"zero":false}},"y":{"datum":0,"type":"quantitative","scale":{"domain":[0,1],"range":[823.3,650],"nice":false,"zero":false}},"y2":{"datum":-0.133}}},
 {"data":{"values":[{}]},"mark":{"type":"rule","color":"#888888","strokeWidth":2,"strokeDash":[12,14]},"encoding":{"x":{"datum":0,"type":"quantitative","scale":{"domain":[0,1],"range":[915,1086],"nice":false,"zero":false}},"y":{"datum":0,"type":"quantitative","scale":{"domain":[0,1],"range":[823.3,650],"nice":false,"zero":false}},"x2":{"datum":1.38},"y2":{"datum":1.38}}},
 {"data":{"name":"cmean"},"mark":{"type":"rule","color":"#aaaaaa","strokeWidth":2.5},"encoding":{"x":{"field":"xlo","type":"quantitative","scale":{"domain":[0,1],"range":[915,1086],"nice":false,"zero":false}},"x2":{"field":"xhi"},"y":{"field":"g21","type":"quantitative","scale":{"domain":[0,1],"range":[823.3,650],"nice":false,"zero":false}}}},
 {"data":{"name":"cmean"},"mark":{"type":"rule","color":"#aaaaaa","strokeWidth":2.5},"encoding":{"x":{"field":"g12","type":"quantitative","scale":{"domain":[0,1],"range":[915,1086],"nice":false,"zero":false}},"y":{"field":"ylo","type":"quantitative","scale":{"domain":[0,1],"range":[823.3,650],"nice":false,"zero":false}},"y2":{"field":"yhi"}}},
 {"data":{"name":"cmean"},"mark":{"type":"tick","color":"#aaaaaa","orient":"vertical","size":14,"thickness":2.5,"opacity":1},"encoding":{"x":{"field":"xlo","type":"quantitative","scale":{"domain":[0,1],"range":[915,1086],"nice":false,"zero":false}},"y":{"field":"g21","type":"quantitative","scale":{"domain":[0,1],"range":[823.3,650],"nice":false,"zero":false}}}},
 {"data":{"name":"cmean"},"mark":{"type":"tick","color":"#aaaaaa","orient":"vertical","size":14,"thickness":2.5,"opacity":1},"encoding":{"x":{"field":"xhi","type":"quantitative","scale":{"domain":[0,1],"range":[915,1086],"nice":false,"zero":false}},"y":{"field":"g21","type":"quantitative","scale":{"domain":[0,1],"range":[823.3,650],"nice":false,"zero":false}}}},
 {"data":{"name":"cmean"},"mark":{"type":"tick","color":"#aaaaaa","orient":"horizontal","size":14,"thickness":2.5,"opacity":1},"encoding":{"x":{"field":"g12","type":"quantitative","scale":{"domain":[0,1],"range":[915,1086],"nice":false,"zero":false}},"y":{"field":"ylo","type":"quantitative","scale":{"domain":[0,1],"range":[823.3,650],"nice":false,"zero":false}}}},
 {"data":{"name":"cmean"},"mark":{"type":"tick","color":"#aaaaaa","orient":"horizontal","size":14,"thickness":2.5,"opacity":1},"encoding":{"x":{"field":"g12","type":"quantitative","scale":{"domain":[0,1],"range":[915,1086],"nice":false,"zero":false}},"y":{"field":"yhi","type":"quantitative","scale":{"domain":[0,1],"range":[823.3,650],"nice":false,"zero":false}}}},
 {"data":{"name":"cpts"},"mark":{"type":"point","shape":"circle","filled":true,"color":"#111111","size":150,"opacity":1},"encoding":{"x":{"field":"g12","type":"quantitative","scale":{"domain":[0,1],"range":[915,1086],"nice":false,"zero":false}},"y":{"field":"g21","type":"quantitative","scale":{"domain":[0,1],"range":[823.3,650],"nice":false,"zero":false}}}},
 {"data":{"values":[{"v":0,"s":"0.0"},{"v":0.5,"s":"0.5"},{"v":1,"s":"1.0"}]},"mark":{"type":"text","fontSize":29,"color":"#555555","align":"right"},"encoding":{"y":{"field":"v","type":"quantitative","scale":{"domain":[0,1],"range":[823.3,650],"nice":false,"zero":false}},"x":{"datum":-0.205,"type":"quantitative","scale":{"domain":[0,1],"range":[915,1086],"nice":false,"zero":false}},"text":{"field":"s"}}},
 {"data":{"values":[{"v":0,"s":"0.0"},{"v":0.5,"s":"0.5"},{"v":1,"s":"1.0"}]},"mark":{"type":"text","fontSize":29,"color":"#555555"},"encoding":{"x":{"field":"v","type":"quantitative","scale":{"domain":[0,1],"range":[915,1086],"nice":false,"zero":false}},"y":{"datum":-0.273,"type":"quantitative","scale":{"domain":[0,1],"range":[823.3,650],"nice":false,"zero":false}},"text":{"field":"s"}}},
 {"data":{"values":[{}]},"mark":{"type":"text","text":"nS","fontSize":29,"color":"#444444"},"encoding":{"x":{"datum":1.423,"type":"quantitative","scale":{"domain":[0,1],"range":[915,1086],"nice":false,"zero":false}},"y":{"datum":-0.231,"type":"quantitative","scale":{"domain":[0,1],"range":[823.3,650],"nice":false,"zero":false}}}},
 {"data":{"values":[{}]},"mark":{"type":"text","text":"nS","fontSize":29,"color":"#444444"},"encoding":{"x":{"datum":-0.199,"type":"quantitative","scale":{"domain":[0,1],"range":[915,1086],"nice":false,"zero":false}},"y":{"datum":1.463,"type":"quantitative","scale":{"domain":[0,1],"range":[823.3,650],"nice":false,"zero":false}}}},
 {"data":{"values":[{"s":"BC(1)","v":0.298},{"s":"BC(2)","v":1.082}]},"mark":{"type":"text","fontSize":30,"color":"#444444"},"encoding":{"x":{"field":"v","type":"quantitative","scale":{"domain":[0,1],"range":[915,1086],"nice":false,"zero":false}},"y":{"datum":-0.51,"type":"quantitative","scale":{"domain":[0,1],"range":[823.3,650],"nice":false,"zero":false}},"text":{"field":"s"}}},
 {"data":{"values":[{}]},"mark":{"type":"text","text":"→","font":"DejaVu Sans","fontSize":32,"color":"#444444"},"encoding":{"x":{"datum":0.678,"type":"quantitative","scale":{"domain":[0,1],"range":[915,1086],"nice":false,"zero":false}},"y":{"datum":-0.51,"type":"quantitative","scale":{"domain":[0,1],"range":[823.3,650],"nice":false,"zero":false}}}},
 {"data":{"values":[{"s":"BC(2)","v":0.192},{"s":"BC(1)","v":0.988}]},"mark":{"type":"text","fontSize":30,"color":"#444444","angle":270},"encoding":{"y":{"field":"v","type":"quantitative","scale":{"domain":[0,1],"range":[823.3,650],"nice":false,"zero":false}},"x":{"datum":-0.58,"type":"quantitative","scale":{"domain":[0,1],"range":[915,1086],"nice":false,"zero":false}},"text":{"field":"s"}}},
 {"data":{"values":[{}]},"mark":{"type":"text","text":"→","font":"DejaVu Sans","fontSize":32,"color":"#444444","angle":270},"encoding":{"x":{"datum":-0.58,"type":"quantitative","scale":{"domain":[0,1],"range":[915,1086],"nice":false,"zero":false}},"y":{"datum":0.608,"type":"quantitative","scale":{"domain":[0,1],"range":[823.3,650],"nice":false,"zero":false}}}},
 {"data":{"values":[{}]},"mark":{"type":"text","text":"C","fontSize":34},"encoding":{"x":{"datum":-0.683,"type":"quantitative","scale":{"domain":[0,1],"range":[915,1086],"nice":false,"zero":false}},"y":{"datum":1.682,"type":"quantitative","scale":{"domain":[0,1],"range":[823.3,650],"nice":false,"zero":false}}}}
]},
{"layer":[
 {"data":{"name":"dinj"},"mark":{"type":"line","interpolate":"monotone","color":"#222222","strokeWidth":2.5},"encoding":{"x":{"field":"c","type":"quantitative","scale":{"domain":[0,1],"range":[550,570],"nice":false,"zero":false}},"y":{"field":"y","type":"quantitative","scale":{"domain":[0,10],"range":[1047.5,1026.7],"nice":false,"zero":false}}}},
 {"data":{"values":[{}]},"mark":{"type":"text","text":"I","fontSize":29,"baseline":"alphabetic"},"encoding":{"x":{"datum":-2.9,"type":"quantitative","scale":{"domain":[0,1],"range":[550,570],"nice":false,"zero":false}},"y":{"datum":0.3,"type":"quantitative","scale":{"domain":[0,10],"range":[1047.5,1026.7],"nice":false,"zero":false}}}},
 {"data":{"values":[{}]},"mark":{"type":"text","text":"inj.","fontSize":29,"align":"right","baseline":"alphabetic"},"encoding":{"x":{"datum":-0.35,"type":"quantitative","scale":{"domain":[0,1],"range":[550,570],"nice":false,"zero":false}},"y":{"datum":-6.5,"type":"quantitative","scale":{"domain":[0,10],"range":[1047.5,1026.7],"nice":false,"zero":false}}}},
 {"data":{"values":[{}]},"mark":{"type":"text","text":"D","fontSize":34},"encoding":{"x":{"datum":-6.5,"type":"quantitative","scale":{"domain":[0,1],"range":[550,570],"nice":false,"zero":false}},"y":{"datum":27.6,"type":"quantitative","scale":{"domain":[0,10],"range":[1047.5,1026.7],"nice":false,"zero":false}}}}
]},
{"layer":[
 {"data":{"name":"d2pre"},"mark":{"type":"line","interpolate":"monotone","color":"#111111","strokeWidth":3},"encoding":{"x":{"field":"c","type":"quantitative","scale":{"domain":[0,1],"range":[550,570],"nice":false,"zero":false}},"y":{"field":"y","type":"quantitative","scale":{"domain":[0,4],"range":[1133,1099],"nice":false,"zero":false}}}},
 {"data":{"name":"d2post"},"mark":{"type":"line","interpolate":"monotone","color":"#a8a8a8","strokeWidth":1.6},"encoding":{"x":{"field":"c","type":"quantitative","scale":{"domain":[0,1],"range":[550,570],"nice":false,"zero":false}},"y":{"field":"y","type":"quantitative","scale":{"domain":[0,4],"range":[1133,1099],"nice":false,"zero":false}}}},
 {"data":{"values":[{}]},"mark":{"type":"text","text":"2 Hz","fontSize":29,"align":"right"},"encoding":{"x":{"datum":-0.75,"type":"quantitative","scale":{"domain":[0,1],"range":[550,570],"nice":false,"zero":false}},"y":{"datum":-0.94,"type":"quantitative","scale":{"domain":[0,4],"range":[1133,1099],"nice":false,"zero":false}}}}
]},
{"layer":[
 {"data":{"name":"d10pre"},"mark":{"type":"line","interpolate":"monotone","color":"#111111","strokeWidth":3},"encoding":{"x":{"field":"c","type":"quantitative","scale":{"domain":[0,1],"range":[550,570],"nice":false,"zero":false}},"y":{"field":"y","type":"quantitative","scale":{"domain":[0,4],"range":[1240,1206],"nice":false,"zero":false}}}},
 {"data":{"name":"d10post"},"mark":{"type":"line","interpolate":"monotone","color":"#a8a8a8","strokeWidth":1.6},"encoding":{"x":{"field":"c","type":"quantitative","scale":{"domain":[0,1],"range":[550,570],"nice":false,"zero":false}},"y":{"field":"y","type":"quantitative","scale":{"domain":[0,4],"range":[1240,1206],"nice":false,"zero":false}}}},
 {"data":{"values":[{}]},"mark":{"type":"text","text":"10 Hz","fontSize":29,"align":"right"},"encoding":{"x":{"datum":-0.75,"type":"quantitative","scale":{"domain":[0,1],"range":[550,570],"nice":false,"zero":false}},"y":{"datum":1.76,"type":"quantitative","scale":{"domain":[0,4],"range":[1240,1206],"nice":false,"zero":false}}}}
]},
{"layer":[
 {"data":{"name":"d100pre"},"mark":{"type":"line","interpolate":"monotone","color":"#111111","strokeWidth":2.5},"encoding":{"x":{"field":"c","type":"quantitative","scale":{"domain":[0,1],"range":[550,570],"nice":false,"zero":false}},"y":{"field":"y","type":"quantitative","scale":{"domain":[0,4],"range":[1312.5,1278.5],"nice":false,"zero":false}}}},
 {"data":{"name":"d100post"},"mark":{"type":"line","interpolate":"monotone","color":"#a8a8a8","strokeWidth":1.6},"encoding":{"x":{"field":"c","type":"quantitative","scale":{"domain":[0,1],"range":[550,570],"nice":false,"zero":false}},"y":{"field":"y","type":"quantitative","scale":{"domain":[0,4],"range":[1312.5,1278.5],"nice":false,"zero":false}}}},
 {"data":{"values":[{}]},"mark":{"type":"text","text":"100 Hz","fontSize":29,"align":"right"},"encoding":{"x":{"datum":-1.75,"type":"quantitative","scale":{"domain":[0,1],"range":[550,570],"nice":false,"zero":false}},"y":{"datum":0.41,"type":"quantitative","scale":{"domain":[0,4],"range":[1312.5,1278.5],"nice":false,"zero":false}}}},
 {"data":{"values":[{}]},"mark":{"type":"text","text":"p","fontSize":28,"fontStyle":"italic","fontWeight":"bold","color":"#111111"},"encoding":{"x":{"datum":-0.75,"type":"quantitative","scale":{"domain":[0,1],"range":[550,570],"nice":false,"zero":false}},"y":{"datum":0.1,"type":"quantitative","scale":{"domain":[0,4],"range":[1312.5,1278.5],"nice":false,"zero":false}}}},
 {"data":{"values":[{}]},"mark":{"type":"rule","color":"#111111","strokeWidth":5},"encoding":{"x":{"datum":-0.6,"type":"quantitative","scale":{"domain":[0,1],"range":[550,570],"nice":false,"zero":false}},"x2":{"datum":1.15},"y":{"datum":-5.7,"type":"quantitative","scale":{"domain":[0,4],"range":[1312.5,1278.5],"nice":false,"zero":false}}}},
 {"data":{"values":[{}]},"mark":{"type":"rule","color":"#aaaaaa","strokeWidth":5},"encoding":{"x":{"datum":-0.6,"type":"quantitative","scale":{"domain":[0,1],"range":[550,570],"nice":false,"zero":false}},"x2":{"datum":1.15},"y":{"datum":-9.7,"type":"quantitative","scale":{"domain":[0,4],"range":[1312.5,1278.5],"nice":false,"zero":false}}}},
 {"data":{"values":[{}]},"mark":{"type":"text","text":"Pre","fontSize":29,"align":"left"},"encoding":{"x":{"datum":1.75,"type":"quantitative","scale":{"domain":[0,1],"range":[550,570],"nice":false,"zero":false}},"y":{"datum":-5.7,"type":"quantitative","scale":{"domain":[0,4],"range":[1312.5,1278.5],"nice":false,"zero":false}}}},
 {"data":{"values":[{}]},"mark":{"type":"text","text":"Post","fontSize":29,"align":"left"},"encoding":{"x":{"datum":1.75,"type":"quantitative","scale":{"domain":[0,1],"range":[550,570],"nice":false,"zero":false}},"y":{"datum":-9.7,"type":"quantitative","scale":{"domain":[0,4],"range":[1312.5,1278.5],"nice":false,"zero":false}}}},
 {"data":{"values":[{}]},"mark":{"type":"rule","color":"#222222","strokeWidth":2.5},"encoding":{"x":{"datum":5.42,"type":"quantitative","scale":{"domain":[0,1],"range":[550,570],"nice":false,"zero":false}},"x2":{"datum":7.33},"y":{"datum":-12.0,"type":"quantitative","scale":{"domain":[0,4],"range":[1312.5,1278.5],"nice":false,"zero":false}}}},
 {"data":{"values":[{}]},"mark":{"type":"rule","color":"#222222","strokeWidth":2.5},"encoding":{"x":{"datum":7.33,"type":"quantitative","scale":{"domain":[0,1],"range":[550,570],"nice":false,"zero":false}},"y":{"datum":-12.0,"type":"quantitative","scale":{"domain":[0,4],"range":[1312.5,1278.5],"nice":false,"zero":false}},"y2":{"datum":-8.0}}},
 {"data":{"values":[{}]},"mark":{"type":"text","text":"4 mV","fontSize":29,"align":"left"},"encoding":{"x":{"datum":7.58,"type":"quantitative","scale":{"domain":[0,1],"range":[550,570],"nice":false,"zero":false}},"y":{"datum":-9.9,"type":"quantitative","scale":{"domain":[0,4],"range":[1312.5,1278.5],"nice":false,"zero":false}}}},
 {"data":{"values":[{"s":"1000 ms","v":-14.95},{"s":"200 ms","v":-18.95},{"s":"20 ms","v":-22.7}]},"mark":{"type":"text","fontSize":29,"align":"right"},"encoding":{"x":{"datum":9.67,"type":"quantitative","scale":{"domain":[0,1],"range":[550,570],"nice":false,"zero":false}},"y":{"field":"v","type":"quantitative","scale":{"domain":[0,4],"range":[1312.5,1278.5],"nice":false,"zero":false}},"text":{"field":"s"}}}
]},
{"layer":[
 {"layer":[
  {"data":{"values":[{}]},"mark":{"type":"rule","color":"#444444","strokeWidth":2.5},"encoding":{"x":{"datum":0.063,"type":"quantitative","scale":{"type":"log","domain":[0.1,10],"range":[916,1036],"nice":false}},"y":{"datum":0,"type":"quantitative","scale":{"domain":[0,0.4],"range":[1307.3,1038.3],"nice":false,"zero":false}},"y2":{"datum":0.41}}},
  {"data":{"values":[{}]},"mark":{"type":"rule","color":"#444444","strokeWidth":2.5},"encoding":{"x":{"datum":0.063,"type":"quantitative","scale":{"type":"log","domain":[0.1,10],"range":[916,1036],"nice":false}},"x2":{"datum":171},"y":{"datum":0,"type":"quantitative","scale":{"domain":[0,0.4],"range":[1307.3,1038.3],"nice":false,"zero":false}}}},
  {"data":{"values":[{}]},"mark":{"type":"rule","color":"#444444","strokeWidth":2.5},"encoding":{"x":{"datum":171,"type":"quantitative","scale":{"type":"log","domain":[0.1,10],"range":[916,1036],"nice":false}},"y":{"datum":0,"type":"quantitative","scale":{"domain":[0,0.4],"range":[1307.3,1038.3],"nice":false,"zero":false}},"y2":{"datum":0.404}}},
  {"data":{"values":[{"v":0.1},{"v":0.316},{"v":1},{"v":3.16},{"v":10},{"v":31.6},{"v":100}]},"mark":{"type":"rule","color":"#444444","strokeWidth":2.5},"encoding":{"x":{"field":"v","type":"quantitative","scale":{"type":"log","domain":[0.1,10],"range":[916,1036],"nice":false}},"y":{"datum":0,"type":"quantitative","scale":{"domain":[0,0.4],"range":[1307.3,1038.3],"nice":false,"zero":false}},"y2":{"datum":-0.027}}},
  {"data":{"values":[{"v":0},{"v":0.1},{"v":0.2},{"v":0.3},{"v":0.4}]},"mark":{"type":"rule","color":"#444444","strokeWidth":2.5},"encoding":{"y":{"field":"v","type":"quantitative","scale":{"domain":[0,0.4],"range":[1307.3,1038.3],"nice":false,"zero":false}},"x":{"datum":0.063,"type":"quantitative","scale":{"type":"log","domain":[0.1,10],"range":[916,1036],"nice":false}},"x2":{"datum":0.033}}},
  {"data":{"values":[{"v":0.05},{"v":0.15},{"v":0.25},{"v":0.35}]},"mark":{"type":"rule","color":"#444444","strokeWidth":2.5},"encoding":{"y":{"field":"v","type":"quantitative","scale":{"domain":[0,0.4],"range":[1307.3,1038.3],"nice":false,"zero":false}},"x":{"datum":0.063,"type":"quantitative","scale":{"type":"log","domain":[0.1,10],"range":[916,1036],"nice":false}},"x2":{"datum":0.0414}}},
  {"data":{"name":"eco"},"mark":{"type":"rule","color":"#111111","strokeWidth":2},"encoding":{"x":{"field":"f","type":"quantitative","scale":{"type":"log","domain":[0.1,10],"range":[916,1036],"nice":false}},"y":{"field":"lo","type":"quantitative","scale":{"domain":[0,0.4],"range":[1307.3,1038.3],"nice":false,"zero":false}},"y2":{"field":"hi"}}},
  {"data":{"name":"eco"},"mark":{"type":"tick","color":"#111111","orient":"horizontal","size":18,"thickness":2,"opacity":1},"encoding":{"x":{"field":"f","type":"quantitative","scale":{"type":"log","domain":[0.1,10],"range":[916,1036],"nice":false}},"y":{"field":"lo","type":"quantitative","scale":{"domain":[0,0.4],"range":[1307.3,1038.3],"nice":false,"zero":false}}}},
  {"data":{"name":"eco"},"mark":{"type":"tick","color":"#111111","orient":"horizontal","size":18,"thickness":2,"opacity":1},"encoding":{"x":{"field":"f","type":"quantitative","scale":{"type":"log","domain":[0.1,10],"range":[916,1036],"nice":false}},"y":{"field":"hi","type":"quantitative","scale":{"domain":[0,0.4],"range":[1307.3,1038.3],"nice":false,"zero":false}}}},
  {"data":{"name":"eco"},"mark":{"type":"line","color":"#111111","strokeWidth":2},"encoding":{"x":{"field":"f","type":"quantitative","scale":{"type":"log","domain":[0.1,10],"range":[916,1036],"nice":false}},"y":{"field":"r","type":"quantitative","scale":{"domain":[0,0.4],"range":[1307.3,1038.3],"nice":false,"zero":false}}}},
  {"data":{"name":"eco"},"mark":{"type":"point","shape":"circle","filled":true,"color":"#111111","size":150,"opacity":1},"encoding":{"x":{"field":"f","type":"quantitative","scale":{"type":"log","domain":[0.1,10],"range":[916,1036],"nice":false}},"y":{"field":"r","type":"quantitative","scale":{"domain":[0,0.4],"range":[1307.3,1038.3],"nice":false,"zero":false}}}},
  {"data":{"values":[{"v":0,"s":"0.0"},{"v":0.1,"s":"0.1"},{"v":0.2,"s":"0.2"},{"v":0.3,"s":"0.3"},{"v":0.4,"s":"0.4"}]},"mark":{"type":"text","fontSize":30,"color":"#444444","align":"right"},"encoding":{"y":{"field":"v","type":"quantitative","scale":{"domain":[0,0.4],"range":[1307.3,1038.3],"nice":false,"zero":false}},"x":{"datum":0.0251,"type":"quantitative","scale":{"type":"log","domain":[0.1,10],"range":[916,1036],"nice":false}},"text":{"field":"s"}}},
  {"data":{"values":[{"v":0.1,"s":"0.1"},{"v":10,"s":"10"}]},"mark":{"type":"text","fontSize":30,"color":"#444444"},"encoding":{"x":{"field":"v","type":"quantitative","scale":{"type":"log","domain":[0.1,10],"range":[916,1036],"nice":false}},"y":{"datum":-0.0883,"type":"quantitative","scale":{"domain":[0,0.4],"range":[1307.3,1038.3],"nice":false,"zero":false}},"text":{"field":"s"}}},
  {"data":{"values":[{}]},"mark":{"type":"text","text":"Hz","fontSize":30,"color":"#444444"},"encoding":{"x":{"datum":207,"type":"quantitative","scale":{"type":"log","domain":[0.1,10],"range":[916,1036],"nice":false}},"y":{"datum":-0.078,"type":"quantitative","scale":{"domain":[0,0.4],"range":[1307.3,1038.3],"nice":false,"zero":false}}}},
  {"data":{"values":[{}]},"mark":{"type":"text","text":"Coupling ratio (●)","fontSize":32,"color":"#333333","angle":270},"encoding":{"x":{"datum":0.001525,"type":"quantitative","scale":{"type":"log","domain":[0.1,10],"range":[916,1036],"nice":false}},"y":{"datum":0.1967,"type":"quantitative","scale":{"domain":[0,0.4],"range":[1307.3,1038.3],"nice":false,"zero":false}}}},
  {"data":{"values":[{}]},"mark":{"type":"text","text":"E","fontSize":34},"encoding":{"x":{"datum":0.00104,"type":"quantitative","scale":{"type":"log","domain":[0.1,10],"range":[916,1036],"nice":false}},"y":{"datum":0.491,"type":"quantitative","scale":{"domain":[0,0.4],"range":[1307.3,1038.3],"nice":false,"zero":false}}}}
 ]},
 {"layer":[
  {"data":{"values":[{"v":0},{"v":20},{"v":40},{"v":60},{"v":80},{"v":100},{"v":120}]},"mark":{"type":"rule","color":"#444444","strokeWidth":2.5},"encoding":{"y":{"field":"v","type":"quantitative","scale":{"domain":[0,120],"range":[1285,1040],"nice":false,"zero":false}},"x":{"datum":171,"type":"quantitative","scale":{"type":"log","domain":[0.1,10],"range":[916,1036],"nice":false}},"x2":{"datum":281}}},
  {"data":{"name":"eph"},"mark":{"type":"rule","color":"#111111","strokeWidth":2},"encoding":{"x":{"field":"f","type":"quantitative","scale":{"type":"log","domain":[0.1,10],"range":[916,1036],"nice":false}},"y":{"field":"lo","type":"quantitative","scale":{"domain":[0,120],"range":[1285,1040],"nice":false,"zero":false}},"y2":{"field":"hi"}}},
  {"data":{"name":"eph"},"mark":{"type":"tick","color":"#111111","orient":"horizontal","size":18,"thickness":2,"opacity":1},"encoding":{"x":{"field":"f","type":"quantitative","scale":{"type":"log","domain":[0.1,10],"range":[916,1036],"nice":false}},"y":{"field":"lo","type":"quantitative","scale":{"domain":[0,120],"range":[1285,1040],"nice":false,"zero":false}}}},
  {"data":{"name":"eph"},"mark":{"type":"tick","color":"#111111","orient":"horizontal","size":18,"thickness":2,"opacity":1},"encoding":{"x":{"field":"f","type":"quantitative","scale":{"type":"log","domain":[0.1,10],"range":[916,1036],"nice":false}},"y":{"field":"hi","type":"quantitative","scale":{"domain":[0,120],"range":[1285,1040],"nice":false,"zero":false}}}},
  {"data":{"name":"eph"},"mark":{"type":"line","color":"#111111","strokeWidth":2},"encoding":{"x":{"field":"f","type":"quantitative","scale":{"type":"log","domain":[0.1,10],"range":[916,1036],"nice":false}},"y":{"field":"p","type":"quantitative","scale":{"domain":[0,120],"range":[1285,1040],"nice":false,"zero":false}}}},
  {"data":{"name":"eph"},"mark":{"type":"point","shape":"triangle-up","filled":true,"color":"#111111","size":140,"opacity":1},"encoding":{"x":{"field":"f","type":"quantitative","scale":{"type":"log","domain":[0.1,10],"range":[916,1036],"nice":false}},"y":{"field":"p","type":"quantitative","scale":{"domain":[0,120],"range":[1285,1040],"nice":false,"zero":false}}}},
  {"data":{"values":[{"v":120,"s":"120"},{"v":80,"s":"80"},{"v":40,"s":"40"},{"v":0,"s":"0"}]},"mark":{"type":"text","fontSize":30,"color":"#444444","align":"left"},"encoding":{"y":{"field":"v","type":"quantitative","scale":{"domain":[0,120],"range":[1285,1040],"nice":false,"zero":false}},"x":{"datum":656,"type":"quantitative","scale":{"type":"log","domain":[0.1,10],"range":[916,1036],"nice":false}},"text":{"field":"s"}}},
  {"data":{"values":[{}]},"mark":{"type":"text","text":"Phase shift (deg., ▲)","fontSize":32,"color":"#333333","angle":270},"encoding":{"x":{"datum":15070,"type":"quantitative","scale":{"type":"log","domain":[0.1,10],"range":[916,1036],"nice":false}},"y":{"datum":48.5,"type":"quantitative","scale":{"domain":[0,120],"range":[1285,1040],"nice":false,"zero":false}}}}
 ]}
],"resolve":{"scale":{"y":"independent"}}},
{"layer":[
 {"data":{"name":"cap"},"mark":{"type":"text","font":"Lato","fontSize":30.8,"color":"#000000","align":"left","baseline":"alphabetic"},"encoding":{"x":{"datum":0,"type":"quantitative","scale":{"domain":[0,1],"range":[38,1548],"nice":false,"zero":false}},"y":{"field":"line","type":"quantitative","scale":{"domain":[1,7],"range":[1601,1961],"nice":false,"zero":false}},"text":{"field":"text"}}},
 {"data":{"values":[{}]},"mark":{"type":"text","text":"Figure 13","font":"Lato","fontSize":30.8,"fontWeight":"bold","color":"#000000","align":"left","baseline":"alphabetic"},"encoding":{"x":{"datum":0,"type":"quantitative","scale":{"domain":[0,1],"range":[38,1548],"nice":false,"zero":false}},"y":{"datum":1,"type":"quantitative","scale":{"domain":[1,7],"range":[1601,1961],"nice":false,"zero":false}}}},
 {"data":{"values":[{}]},"mark":{"type":"text","text":".","font":"Lato","fontSize":30.8,"color":"#000000","align":"left","baseline":"alphabetic"},"encoding":{"x":{"datum":0.0874,"type":"quantitative","scale":{"domain":[0,1],"range":[38,1548],"nice":false,"zero":false}},"y":{"datum":1,"type":"quantitative","scale":{"domain":[1,7],"range":[1601,1961],"nice":false,"zero":false}}}},
 {"data":{"values":[{}]},"mark":{"type":"text","text":"Biophysical properties of gap junctions between bipolar cells.","font":"Lato","fontSize":30.8,"fontStyle":"italic","color":"#000000","align":"left","baseline":"alphabetic"},"encoding":{"x":{"datum":0.0954,"type":"quantitative","scale":{"domain":[0,1],"range":[38,1548],"nice":false,"zero":false}},"y":{"datum":1,"type":"quantitative","scale":{"domain":[1,7],"range":[1601,1961],"nice":false,"zero":false}}}},
 {"data":{"values":[{}]},"mark":{"type":"text","text":"A","font":"Lato","fontSize":30.8,"fontWeight":"bold","color":"#000000","align":"left","baseline":"alphabetic"},"encoding":{"x":{"datum":0.643,"type":"quantitative","scale":{"domain":[0,1],"range":[38,1548],"nice":false,"zero":false}},"y":{"datum":1,"type":"quantitative","scale":{"domain":[1,7],"range":[1601,1961],"nice":false,"zero":false}}}},
 {"data":{"values":[{}]},"mark":{"type":"text","text":", A pair of Mb1 bipolar cells in goldfish","font":"Lato","fontSize":30.8,"color":"#000000","align":"left","baseline":"alphabetic"},"encoding":{"x":{"datum":0.6585,"type":"quantitative","scale":{"domain":[0,1],"range":[38,1548],"nice":false,"zero":false}},"y":{"datum":1,"type":"quantitative","scale":{"domain":[1,7],"range":[1601,1961],"nice":false,"zero":false}}}}
]}
],
"resolve":{"scale":{"x":"independent","y":"independent"}}
}
